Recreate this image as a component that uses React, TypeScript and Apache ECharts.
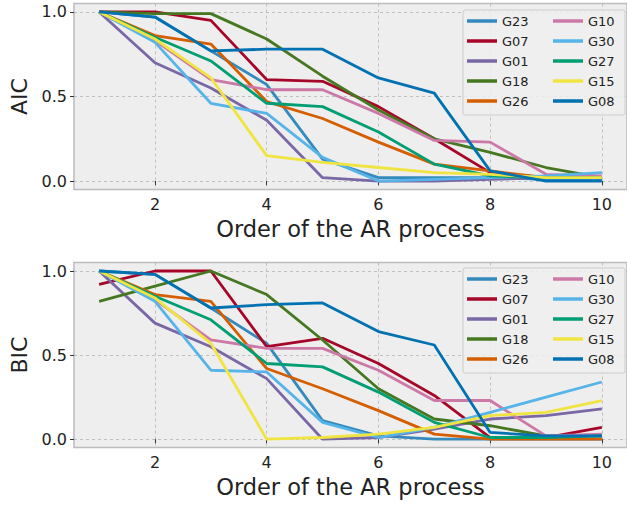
import React, { useEffect, useRef } from 'react';
import * as echarts from 'echarts';

const xValues = [1, 2, 3, 4, 5, 6, 7, 8, 9, 10];
const seriesNames = ['G23', 'G07', 'G01', 'G18', 'G26', 'G10', 'G30', 'G27', 'G15', 'G08'];
const seriesColors = ['#348ABD', '#A60628', '#7A68A6', '#467821', '#D55E00', '#CC79A7', '#56B4E9', '#009E73', '#F0E442', '#0072B2'];
const xTickValues = [2, 4, 6, 8, 10];
const yTickValues = [0, 0.5, 1];

// AIC (top panel)
const aicG23 = [1.0, 0.97, 0.77, 0.57, 0.13, 0.02, 0.02, 0.02, 0.01, 0.01];
const aicG07 = [1.0, 1.0, 0.95, 0.60, 0.59, 0.44, 0.25, 0.05, 0.02, 0.02];
const aicG01 = [1.0, 0.70, 0.55, 0.36, 0.02, 0.0, 0.0, 0.01, 0.02, 0.02];
const aicG18 = [1.0, 0.99, 0.99, 0.84, 0.62, 0.42, 0.25, 0.17, 0.08, 0.02];
const aicG26 = [1.0, 0.86, 0.81, 0.47, 0.37, 0.23, 0.10, 0.06, 0.02, 0.02];
const aicG10 = [1.0, 0.83, 0.60, 0.54, 0.54, 0.40, 0.24, 0.23, 0.04, 0.03];
const aicG30 = [1.0, 0.82, 0.46, 0.40, 0.14, 0.0, 0.01, 0.02, 0.03, 0.05];
const aicG27 = [1.0, 0.85, 0.71, 0.46, 0.44, 0.29, 0.10, 0.03, 0.02, 0.02];
const aicG15 = [1.0, 0.84, 0.61, 0.15, 0.11, 0.08, 0.05, 0.04, 0.02, 0.02];
const aicG08 = [1.0, 0.97, 0.77, 0.78, 0.78, 0.61, 0.52, 0.06, 0.0, 0.0];

// BIC (bottom panel)
const bicG23 = [1.0, 0.98, 0.78, 0.57, 0.11, 0.02, 0.0, 0.0, 0.0, 0.0];
const bicG07 = [0.92, 1.0, 1.0, 0.55, 0.60, 0.45, 0.26, 0.01, 0.01, 0.07];
const bicG01 = [1.0, 0.69, 0.55, 0.36, 0.0, 0.01, 0.06, 0.12, 0.14, 0.18];
const bicG18 = [0.82, 0.91, 1.0, 0.86, 0.59, 0.30, 0.12, 0.08, 0.02, 0.02];
const bicG26 = [1.0, 0.86, 0.82, 0.42, 0.30, 0.17, 0.03, 0.0, 0.0, 0.0];
const bicG10 = [1.0, 0.83, 0.59, 0.54, 0.54, 0.41, 0.23, 0.23, 0.02, 0.03];
const bicG30 = [1.0, 0.82, 0.41, 0.40, 0.10, 0.01, 0.07, 0.16, 0.25, 0.34];
const bicG27 = [1.0, 0.85, 0.71, 0.45, 0.43, 0.28, 0.10, 0.01, 0.01, 0.02];
const bicG15 = [1.0, 0.84, 0.57, 0.0, 0.01, 0.03, 0.07, 0.14, 0.16, 0.23];
const bicG08 = [1.0, 0.98, 0.78, 0.80, 0.81, 0.64, 0.56, 0.04, 0.02, 0.02];

const aicValues = [aicG23, aicG07, aicG01, aicG18, aicG26, aicG10, aicG30, aicG27, aicG15, aicG08];
const bicValues = [bicG23, bicG07, bicG01, bicG18, bicG26, bicG10, bicG30, bicG27, bicG15, bicG08];

const FONT = 'DejaVu Sans';
const TEXT = '#222222';

function makeXAxis(gridIndex: number) {
  return {
    type: 'value',
    gridIndex,
    min: 0.55,
    max: 10.45,
    name: 'Order of the AR process',
    nameLocation: 'middle',
    nameGap: 28,
    nameTextStyle: { fontFamily: FONT, fontSize: 22.5, color: TEXT },
    axisLine: { show: false },
    axisTick: { show: true, length: 4, inside: false, customValues: xTickValues, lineStyle: { color: '#333', width: 1 } },
    axisLabel: { customValues: xTickValues, fontFamily: FONT, fontSize: 16, color: TEXT, margin: 7, formatter: (v: number) => String(v) },
    splitLine: { show: true, lineStyle: { color: '#b2b2b2', type: [3, 3], width: 0.8 } },
  };
}

function makeYAxis(gridIndex: number, name: string) {
  return {
    type: 'value',
    gridIndex,
    min: -0.05,
    max: 1.05,
    name,
    nameLocation: 'middle',
    nameGap: 42,
    nameTextStyle: { fontFamily: FONT, fontSize: 22, color: TEXT },
    axisLine: { show: false },
    axisTick: { show: true, length: 4, inside: false, customValues: yTickValues, lineStyle: { color: '#333', width: 1 } },
    axisLabel: { customValues: yTickValues, fontFamily: FONT, fontSize: 16, color: TEXT, margin: 7, formatter: (v: number) => v.toFixed(1) },
    splitLine: { show: true, lineStyle: { color: '#b2b2b2', type: [3, 3], width: 0.8 } },
  };
}

function makeLegend(top: number) {
  return {
    show: true,
    orient: 'vertical',
    left: 463,
    top,
    height: 110,
    padding: [1, 4, 4, 4],
    itemGap: 0,
    itemWidth: 30,
    itemHeight: 3.5,
    itemTextGap: 7,
    icon: 'rect',
    data: seriesNames,
    textStyle: { fontFamily: FONT, fontSize: 13, color: TEXT, lineHeight: 20, width: 51 },
  };
}

export default function App() {
  const ref = useRef<HTMLDivElement>(null);
  useEffect(() => {
    if (!ref.current) return;
    const chart = echarts.init(ref.current, undefined, { renderer: 'svg' });
    const series: any[] = [];
    [aicValues, bicValues].forEach((set, gi) => {
      set.forEach((vals, si) => {
        series.push({
          type: 'line',
          name: seriesNames[si],
          xAxisIndex: gi,
          yAxisIndex: gi,
          data: xValues.map((x, i) => [x, vals[i]]),
          showSymbol: false,
          symbol: 'none',
          color: seriesColors[si],
          lineStyle: { width: 2.8, color: seriesColors[si] },
          z: 2,
        });
      });
    });
    chart.setOption({
      animation: false,
      backgroundColor: '#ffffff',
      textStyle: { fontFamily: FONT },
      grid: [
        { left: 74, top: 3.5, width: 557, height: 186, show: true, backgroundColor: '#eeeeee', borderColor: '#bcbcbc', borderWidth: 1.5 },
        { left: 74, top: 262.6, width: 557, height: 185, show: true, backgroundColor: '#eeeeee', borderColor: '#bcbcbc', borderWidth: 1.5 },
      ],
      xAxis: [makeXAxis(0), makeXAxis(1)],
      yAxis: [makeYAxis(0, 'AIC'), makeYAxis(1, 'BIC')],
      legend: [makeLegend(10), makeLegend(268)],
      graphic: [
        { type: 'rect', z: 3, shape: { x: 463, y: 10, width: 162, height: 105, r: 2 }, style: { fill: 'rgba(238,238,238,0.85)', stroke: '#cccccc', lineWidth: 1 } },
        { type: 'rect', z: 3, shape: { x: 463, y: 268, width: 162, height: 105, r: 2 }, style: { fill: 'rgba(238,238,238,0.85)', stroke: '#cccccc', lineWidth: 1 } },
      ],
      series,
    });
    return () => chart.dispose();
  }, []);
  return <div ref={ref} style={{ position: 'absolute', left: 0, top: 0, width: 627, height: 505 }} />;
}
